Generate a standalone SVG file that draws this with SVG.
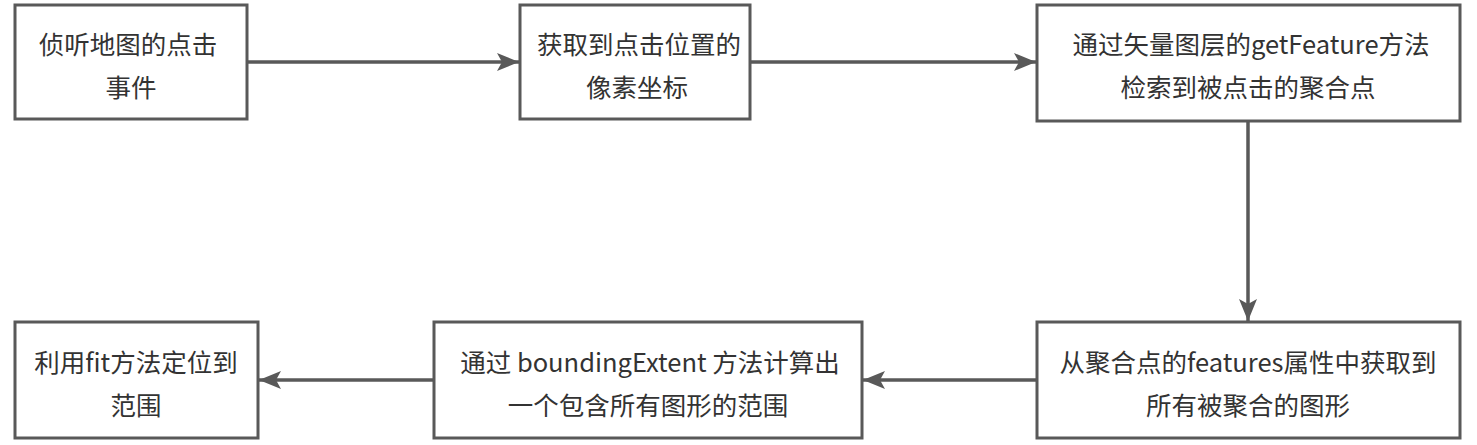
<svg xmlns="http://www.w3.org/2000/svg" width="1477" height="445" viewBox="0 0 1477 445">
<style>
.box{fill:#fff;stroke:#595959;stroke-width:3}
.t{font-family:"Noto Sans CJK SC","Noto Sans",sans-serif;font-size:25.5px;fill:#333;text-anchor:middle}
.c{fill:none;stroke:#595959;stroke-width:3.5}
</style>
<defs>
<marker id="a" viewBox="0 0 22 18" refX="22" refY="9" markerWidth="22" markerHeight="18" markerUnits="userSpaceOnUse" orient="auto">
<path d="M0,0 L22,9 L0,18 L5,9 Z" fill="#595959"/>
</marker>
</defs>
<rect width="1477" height="445" fill="#fff"/>
<g id="connectors">
<line class="c" x1="247" y1="62" x2="519" y2="62" marker-end="url(#a)"/>
<line class="c" x1="750" y1="62" x2="1036" y2="62" marker-end="url(#a)"/>
<line class="c" x1="1248" y1="121" x2="1248" y2="321" marker-end="url(#a)"/>
<line class="c" x1="1037" y1="380" x2="863" y2="380" marker-end="url(#a)"/>
<line class="c" x1="434" y1="380" x2="259" y2="380" marker-end="url(#a)"/>
</g>
<g id="n1"><rect class="box" x="15" y="5" width="232" height="114"/>
<text class="t" x="128" y="54">侦听地图的点击</text><text class="t" x="131" y="97">事件</text></g>
<g id="n2"><rect class="box" x="520" y="5" width="230" height="114"/>
<text class="t" x="639" y="54">获取到点击位置的</text><text class="t" x="637" y="97">像素坐标</text></g>
<g id="n3"><rect class="box" x="1037" y="5" width="423" height="116"/>
<text class="t" x="1251" y="54">通过矢量图层的getFeature方法</text><text class="t" x="1248" y="97">检索到被点击的聚合点</text></g>
<g id="n4"><rect class="box" x="1037" y="322" width="423" height="116"/>
<text class="t" x="1248" y="372">从聚合点的features属性中获取到</text><text class="t" x="1248" y="415">所有被聚合的图形</text></g>
<g id="n5"><rect class="box" x="434" y="322" width="428" height="116"/>
<text class="t" x="650" y="372">通过 boundingExtent 方法计算出</text><text class="t" x="648" y="415">一个包含所有图形的范围</text></g>
<g id="n6"><rect class="box" x="15" y="322" width="243" height="116"/>
<text class="t" x="136" y="372">利用fit方法定位到</text><text class="t" x="136" y="415">范围</text></g>
</svg>
